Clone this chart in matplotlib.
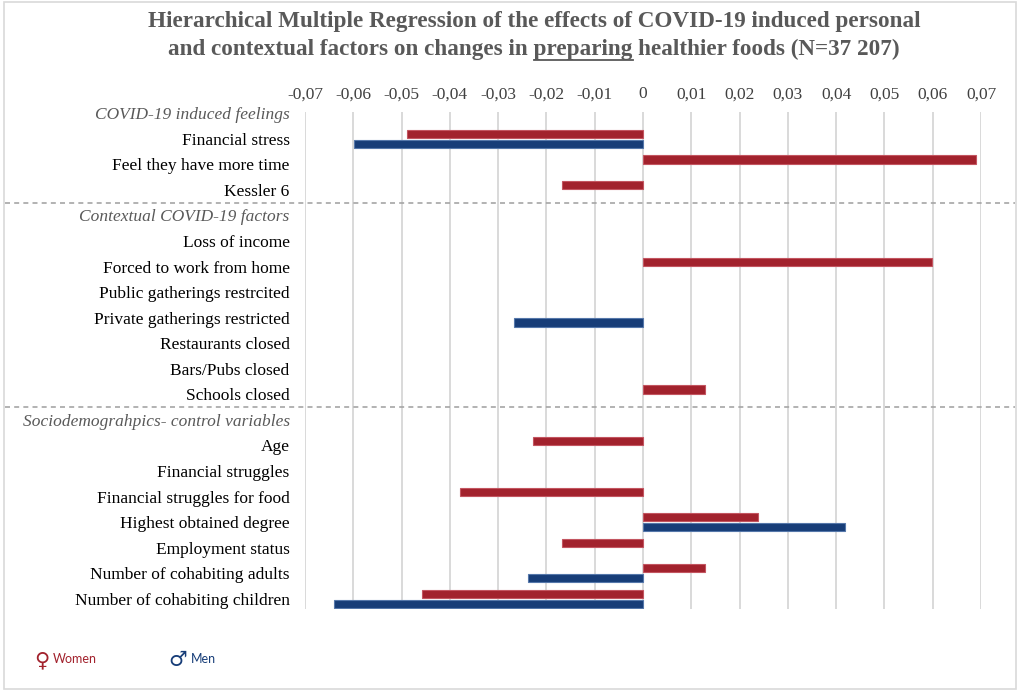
import matplotlib
matplotlib.use("Agg")
import matplotlib.pyplot as plt
import numpy as np
from matplotlib.patches import Rectangle
from matplotlib.lines import Line2D

# ---- data ----
rows = [
    "COVID-19 induced feelings",
    "Financial stress",
    "Feel they have more time",
    "Kessler 6",
    "Contextual COVID-19 factors",
    "Loss of income",
    "Forced to work from home",
    "Public gatherings restrcited",
    "Private gatherings restricted",
    "Restaurants closed",
    "Bars/Pubs closed",
    "Schools closed",
    "Sociodemograhpics- control variables",
    "Age",
    "Financial struggles",
    "Financial struggles for food",
    "Highest obtained degree",
    "Employment status",
    "Number of cohabiting adults",
    "Number of cohabiting children",
]
headers = [0, 4, 12]
women = [np.nan, -0.0488, 0.0689, -0.0168,
         np.nan, np.nan, 0.0598, np.nan, np.nan, np.nan, np.nan, 0.0129,
         np.nan, -0.0228, np.nan, -0.0378, 0.0239, -0.0168, 0.0129, -0.0458]
men = [np.nan, -0.0598, np.nan, np.nan,
       np.nan, np.nan, np.nan, np.nan, -0.0267, np.nan, np.nan, np.nan,
       np.nan, np.nan, np.nan, np.nan, 0.0419, np.nan, -0.0239, -0.0639]
xticks = [-0.07, -0.06, -0.05, -0.04, -0.03, -0.02, -0.01, 0,
          0.01, 0.02, 0.03, 0.04, 0.05, 0.06, 0.07]
xticklabels = ["-0,07", "-0,06", "-0,05", "-0,04", "-0,03", "-0,02", "-0,01", "0",
               "0,01", "0,02", "0,03", "0,04", "0,05", "0,06", "0,07"]
title1 = "Hierarchical Multiple Regression of the effects of COVID-19 induced personal"
title2_pre = "and contextual factors on changes in "
title2_u = "preparing"
title2_post = " healthier foods (N=37 207)"

RED = "#A2222D"
RED_E = "#C35560"
BLUE = "#173D78"
BLUE_E = "#5577AA"
SERIF = "Liberation Serif"
TFS = 16.7

W, H = 1021, 694
fig = plt.figure(figsize=(W / 100, H / 100), dpi=100)
fig.patch.set_facecolor("white")

ax_l, ax_r, ax_t, ax_b = 305, 981, 112, 609
ax = fig.add_axes([ax_l / W, 1 - ax_b / H, (ax_r - ax_l) / W, (ax_b - ax_t) / H])

y = np.arange(len(rows))
off = 0.19
h = 0.32
ax.barh(y - off, women, height=h, color=RED, edgecolor=RED_E, linewidth=0.8, zorder=3)
ax.barh(y + off, men, height=h, color=BLUE, edgecolor=BLUE_E, linewidth=0.8, zorder=3)

ax.set_xlim(-0.07, 0.07)
ax.set_ylim(19.4, -0.05)
for s in ax.spines.values():
    s.set_visible(False)
ax.xaxis.tick_top()
ax.set_xticks(xticks)
ax.set_xticklabels(xticklabels, fontfamily=SERIF, fontsize=12.5, color="#404040")
ax.tick_params(axis="x", length=0, pad=7)
ax.grid(axis="x", color="#d9d9d9", linewidth=1.4, zorder=0)
ax.set_yticks(y)
ax.set_yticklabels(rows, fontfamily=SERIF, fontsize=12.5, color="black")
ax.tick_params(axis="y", length=0, pad=11)
for i, lab in enumerate(ax.get_yticklabels()):
    if i in headers:
        lab.set_fontstyle("italic")
        lab.set_color("#595959")

# dashed separators across the figure
for yy in [3.5, 11.5]:
    ax.axhline(yy, xmin=(5 - ax_l) / (ax_r - ax_l), xmax=(1015 - ax_l) / (ax_r - ax_l),
               color="#a6a6a6", linewidth=1.2, linestyle=(0, (3, 2.5)), clip_on=False, zorder=4)

# title
tcx = 534 / W
fig.text(tcx, 1 - 21 / H, title1, ha="center", va="center", fontfamily=SERIF,
         fontweight="bold", fontsize=TFS, color="#595959")
full2 = title2_pre + title2_u + title2_post
t2 = fig.text(tcx, 1 - 49 / H, full2, ha="center", va="center", fontfamily=SERIF,
              fontweight="bold", fontsize=TFS, color="#595959")
fig.canvas.draw()
r = fig.canvas.get_renderer()
bb_full = t2.get_window_extent(r)
tmp = fig.text(0, 0, title2_pre + title2_u, fontfamily=SERIF, fontweight="bold", fontsize=TFS)
w_pu = tmp.get_window_extent(r).width
tmp.set_text(title2_pre)
w_p = tmp.get_window_extent(r).width
tmp.remove()
x0 = bb_full.x0 + w_p
x1 = bb_full.x0 + w_pu
yline = (H - 49 - 11)
fig.add_artist(Line2D([x0 / W, x1 / W], [yline / H, yline / H], color="#595959", linewidth=1.3))

# legend
fig.text(42 / W, 1 - 660 / H, "\u2640", ha="center", va="center", fontfamily="DejaVu Sans",
         fontsize=15, color=RED)
fig.text(53 / W, 1 - 659 / H, "Women", ha="left", va="center", fontfamily="Lato",
         fontsize=9, color=RED)
fig.text(178 / W, 1 - 660 / H, "\u2642", ha="center", va="center", fontfamily="DejaVu Sans",
         fontsize=15, color=BLUE)
fig.text(191 / W, 1 - 659 / H, "Men", ha="left", va="center", fontfamily="Lato",
         fontsize=9, color=BLUE)

# figure frame
fig.add_artist(Rectangle((4 / W, 1 - 689 / H), 1012 / W, 687 / H, fill=False,
                         edgecolor="#d9d9d9", linewidth=1.2, transform=fig.transFigure))

fig.savefig("out.png", dpi=100)
